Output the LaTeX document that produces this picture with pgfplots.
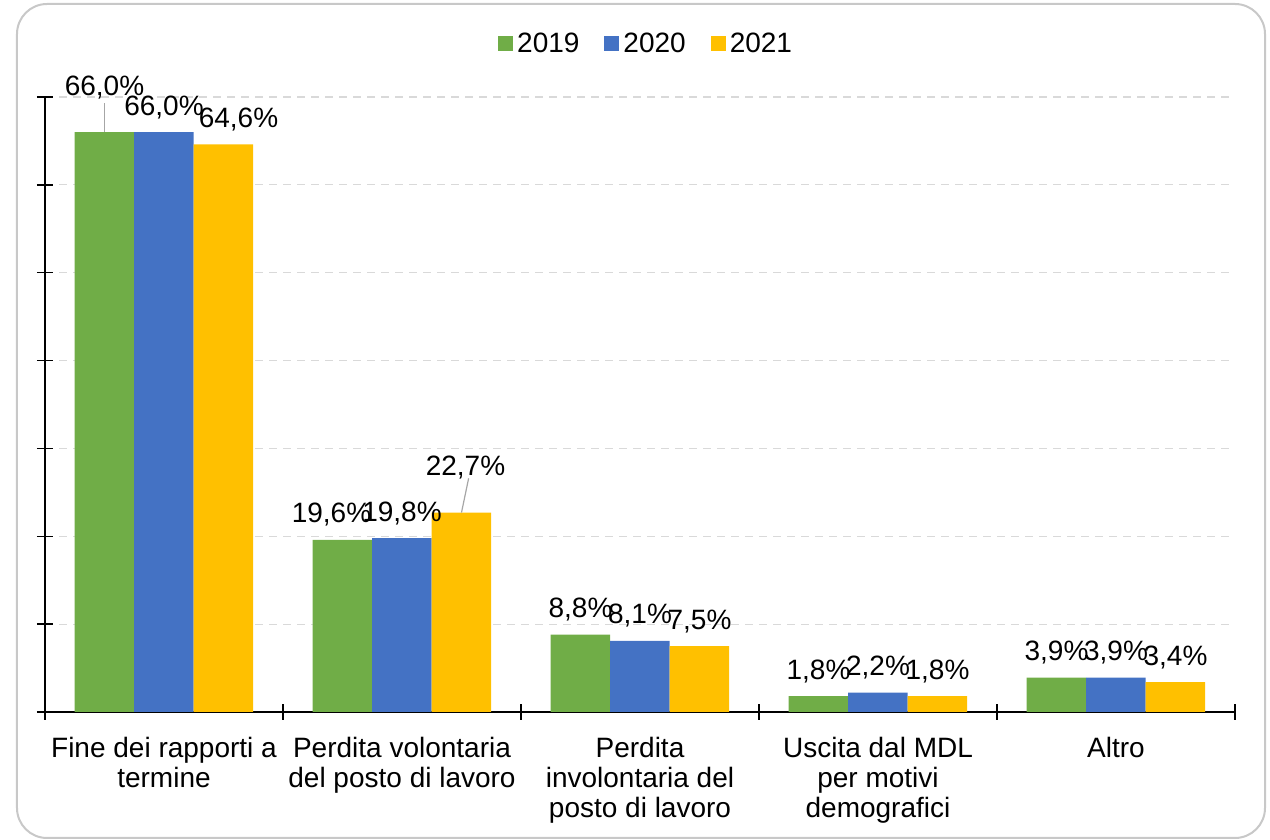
\documentclass[border=0pt]{standalone}
\usepackage{pgfplots}
\pgfplotsset{compat=1.18}
\usepackage{pgfplotstable}
\usepackage{fontspec}
\setmainfont{Liberation Sans}
\definecolor{cgreen}{HTML}{70AD47}
\definecolor{cblue}{HTML}{4472C4}
\definecolor{cyellow}{HTML}{FFC000}
\definecolor{cgrid}{HTML}{D9D9D9}
\definecolor{cborder}{HTML}{C8C8C8}
\definecolor{clead}{HTML}{A6A6A6}

\pgfplotstableread{
x y dx dy
0 66.0 0 10
1 19.6 -5.5 0
2 8.8 0 0
3 1.8 0 0
4 3.9 0 0
}\tA
\pgfplotstableread{
x y dx dy
0 66.0 0 0
1 19.8 0 0
2 8.1 0 0
3 2.2 0 0
4 3.9 0 0
}\tB
\pgfplotstableread{
x y dx dy
0 64.6 7.5 0
1 22.7 2 10
2 7.5 0 0
3 1.8 0 0
4 3.4 0 0
}\tC

\begin{document}
\begin{tikzpicture}[font=\fontsize{14}{15}\selectfont]
\path[use as bounding box] (-22.5pt,-64pt) rectangle (612.5pt,356pt);
\draw[cborder, line width=1pt, rounded corners=15pt] (-14pt,-63pt) rectangle (610pt,354pt);
\begin{axis}[
  at={(0,0)}, anchor=south west,
  scale only axis, width=595pt, height=307.5pt,
  xmin=-0.5, xmax=4.5, ymin=0, ymax=70,
  ybar=0pt, bar width=0.25,
  axis x line*=bottom, axis y line*=left,
  axis line style={black, line width=0.75pt},
  ytick={0,10,...,70}, yticklabels={},
  major tick length=8pt, minor tick length=8pt, tick align=center,
  ytick style={black, line width=0.75pt},
  xtick={0,1,2,3,4},
  xticklabels={{Fine dei rapporti a\\termine},{Perdita volontaria\\del posto di lavoro},{Perdita\\involontaria del\\posto di lavoro},{Uscita dal MDL\\per motivi\\demografici},{Altro}},
  xticklabel style={align=center, font=\fontsize{14}{15}\selectfont, anchor=north, yshift=-5pt},
  major x tick style={draw=none},
  minor xtick={-0.5,0.5,...,4.5},
  minor x tick style={black, line width=0.75pt},
  ymajorgrids,
  major grid style={cgrid, line width=0.6pt, dash pattern=on 4pt off 3pt},
  nodes near coords={\pgfmathprintnumber[fixed, fixed zerofill, precision=1, use comma, assume math mode=true]{\pgfplotspointmeta}\%},
  visualization depends on={\thisrow{dx} \as \dx},
  visualization depends on={\thisrow{dy} \as \dy},
  every node near coord/.append style={font=\fontsize{14}{15}\selectfont, black, anchor=south, inner sep=2pt, yshift=\dy pt+4.5pt, xshift=\dx pt},
  legend style={at={(0.506,1.0862)}, anchor=center, draw=none, legend columns=3, font=\fontsize{14}{15}\selectfont,
    /tikz/every even column/.append style={column sep=10.5pt}},
  legend image code/.code={\fill[#1] (-1pt,-3.75pt) rectangle (6.5pt,3.75pt);},
]
\addplot[fill=cgreen, draw=none, bar shift=-0.25] table[x=x,y=y] {\tA};
\addplot[fill=cblue, draw=none, bar shift=0] table[x=x,y=y] {\tB};
\addplot[fill=cyellow, draw=none, bar shift=0.25] table[x=x,y=y] {\tC};
\legend{2019,2020,2021}
\draw[clead, line width=0.6pt] (axis cs:-0.25,66) -- (axis cs:-0.25,69.3);
\draw[clead, line width=0.6pt] (axis cs:1.25,22.7) -- (axis cs:1.28,26.6);
\end{axis}
\end{tikzpicture}
\end{document}
